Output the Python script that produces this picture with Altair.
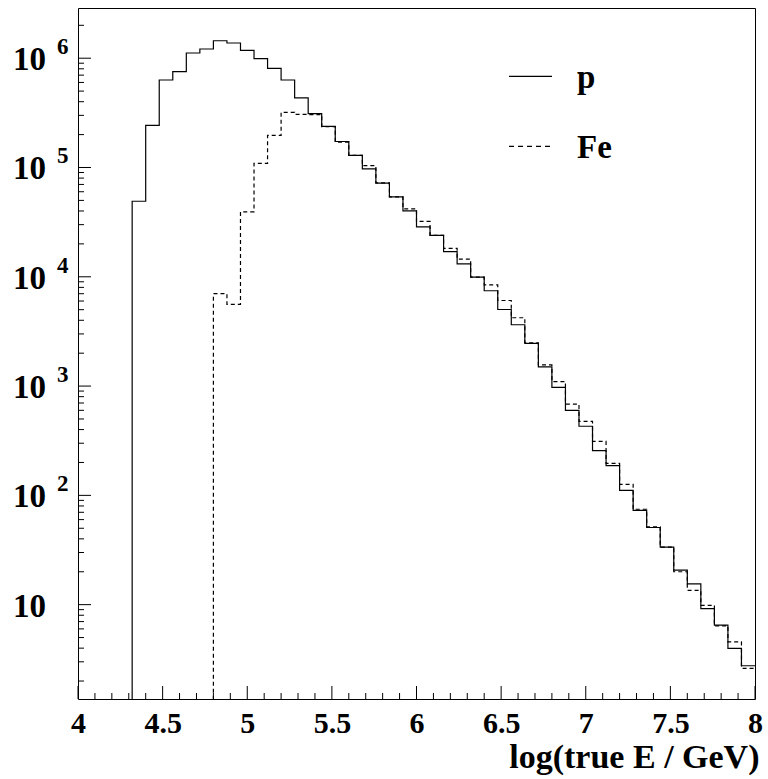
import altair as alt
import pandas as pd

# ---------------- data ----------------
bin_low = 4.0
bin_width = 0.08
series_names = ["p", "Fe"]
p_counts = [0, 0, 0, 0, 49100, 243000, 632000, 753000, 1116000, 1214000,
            1445000, 1377000, 1178000, 990000, 807000, 632000, 433000, 311000, 238000, 173000,
            129000, 97000, 71800, 53800, 40100, 28600, 23900, 17000, 13100, 9920,
            7450, 5020, 3640, 2460, 1500, 973, 600, 429, 257, 187,
            111, 73, 50.8, 33.6, 20.7, 15.5, 9.2, 6.5, 3.98, 2.76]
fe_counts = [0, 0, 0, 0, 0, 0, 0, 0, 0, 0,
             7000, 5590, 39300, 109000, 197000, 320000, 306000, 305000, 237000, 171000,
             129000, 104000, 72300, 53800, 41900, 32100, 23900, 18200, 14500, 9920,
             8450, 6070, 4220, 2490, 1560, 1100, 684, 475, 312, 196,
             126, 74.6, 51.4, 33.6, 20, 13.5, 9.86, 6.4, 4.57, 2.61]
x_tick_labels = [4, 4.5, 5, 5.5, 6, 6.5, 7, 7.5, 8]
y_decades = [1, 2, 3, 4, 5, 6]
x_title = "log(true E / GeV)"

# ---------------- layout ----------------
W, H = 677, 691
YMIN, YMAX = 1.37, 2.88e6
FLOOR = 0.1
FONT = "Liberation Serif"

rows = []
for name, counts in zip(series_names, [p_counts, fe_counts]):
    for i, c in enumerate(counts):
        rows.append({"series": name, "x": bin_low + i * bin_width, "y": c if c > 0 else FLOOR})
    rows.append({"series": name, "x": bin_low + len(counts) * bin_width, "y": counts[-1]})
hist = pd.DataFrame(rows)

xs = alt.Scale(domain=[4, 8], nice=False, zero=False)
ys = alt.Scale(type="log", domain=[YMIN, YMAX], nice=False)

x_axis = alt.Axis(
    values=x_tick_labels, format="~g", ticks=False, domain=False, grid=False,
    labelFont=FONT, labelFontSize=30, labelFontWeight="bold", labelColor="black",
    labelPadding=9, labelFlush=False, labelOverlap=False,
    title=x_title, titleFont=FONT, titleFontSize=34, titleFontWeight="bold",
    titleColor="black", titleAnchor="end", titleAlign="right",
    titleBaseline="alphabetic", titleX=681, titleY=68)

lines = alt.Chart(hist).mark_line(
    interpolate="step-after", clip=True, strokeWidth=1.2, color="black"
).encode(
    x=alt.X("x:Q", scale=xs, axis=x_axis),
    y=alt.Y("y:Q", scale=ys, axis=None),
    strokeDash=alt.StrokeDash("series:N", scale=alt.Scale(domain=series_names, range=[[1, 0], [4, 3]]), legend=None),
)

# y ticks (inside frame)
y_major = [10 ** n for n in y_decades]
y_minor = [k * 10 ** n for n in range(0, 7) for k in range(2, 10) if YMIN <= k * 10 ** n <= YMAX]
ymaj = alt.Chart(pd.DataFrame({"y": y_major})).mark_rule(color="black", strokeWidth=1).encode(
    y=alt.Y("y:Q", scale=ys, axis=None), x=alt.value(0), x2=alt.value(13))
ymin_ = alt.Chart(pd.DataFrame({"y": y_minor})).mark_rule(color="black", strokeWidth=1).encode(
    y=alt.Y("y:Q", scale=ys, axis=None), x=alt.value(0), x2=alt.value(6))

# x ticks (inside frame)
x_all = [round(4 + 0.1 * i, 1) for i in range(0, 41)]
x_major = [v for v in x_all if abs(v * 2 - round(v * 2)) < 1e-9]
x_minor = [v for v in x_all if v not in x_major]
xmaj = alt.Chart(pd.DataFrame({"x": x_major})).mark_rule(color="black", strokeWidth=1).encode(
    x=alt.X("x:Q", scale=xs, axis=x_axis), y=alt.value(H), y2=alt.value(H - 13))
xmin_ = alt.Chart(pd.DataFrame({"x": x_minor})).mark_rule(color="black", strokeWidth=1).encode(
    x=alt.X("x:Q", scale=xs, axis=x_axis), y=alt.value(H), y2=alt.value(H - 6))

# y labels  10^n
ylab = pd.DataFrame({
    "y": [10 ** n for n in y_decades],
    "base": ["10" for _ in y_decades],
    "exp": ["" if n == 1 else str(n) for n in y_decades],
})
ybase = alt.Chart(ylab).mark_text(
    align="right", baseline="alphabetic", dy=12, font=FONT, fontSize=33, fontWeight="bold", color="black"
).encode(y=alt.Y("y:Q", scale=ys, axis=None), x=alt.value(-32), text="base:N")
yexp = alt.Chart(ylab).mark_text(
    align="left", baseline="alphabetic", dy=-4, font=FONT, fontSize=23, fontWeight="bold", color="black"
).encode(y=alt.Y("y:Q", scale=ys, axis=None), x=alt.value(-21), text="exp:N")

# legend
leg_p_line = alt.Chart(pd.DataFrame({"s": [series_names[0]]})).mark_rule(color="black", strokeWidth=1.2).encode(
    x=alt.value(431), x2=alt.value(474), y=alt.value(68.4))
leg_fe_line = alt.Chart(pd.DataFrame({"s": [series_names[1]]})).mark_rule(
    color="black", strokeWidth=1.2, strokeDash=[5, 4]).encode(
    x=alt.value(431), x2=alt.value(474), y=alt.value(138.4))
leg_p_text = alt.Chart(pd.DataFrame({"s": [series_names[0]]})).mark_text(
    align="left", baseline="alphabetic", font=FONT, fontSize=33, fontWeight="bold", color="black"
).encode(x=alt.value(499), y=alt.value(79.7), text="s:N")
leg_fe_text = alt.Chart(pd.DataFrame({"s": [series_names[1]]})).mark_text(
    align="left", baseline="alphabetic", font=FONT, fontSize=33, fontWeight="bold", color="black"
).encode(x=alt.value(499), y=alt.value(149.7), text="s:N")

chart = alt.layer(
    lines, ymaj, ymin_, xmaj, xmin_, ybase, yexp,
    leg_p_line, leg_fe_line, leg_p_text, leg_fe_text
).properties(
    width=W, height=H,
    padding={"left": 78, "top": 8, "right": 13, "bottom": 80},
    autosize=alt.AutoSizeParams(type="none"),
    background="white",
).configure_view(stroke="black", strokeWidth=1)

chart.save("out.html", embed_options={"renderer": "svg", "actions": False})
